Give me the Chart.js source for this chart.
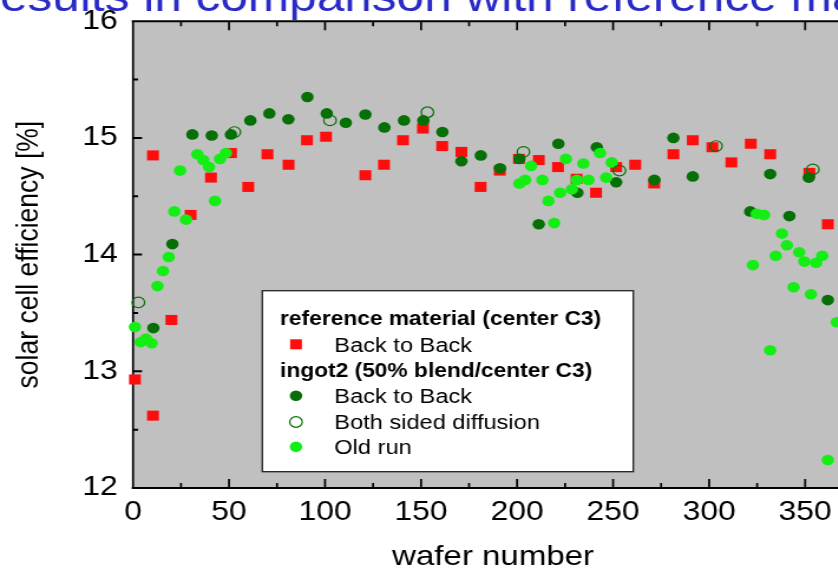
<!DOCTYPE html>
<html>
<head>
<meta charset="utf-8">
<script src="https://cdn.jsdelivr.net/npm/chart.js@4.4.0/dist/chart.umd.min.js"></script>
<style>
  html, body { margin: 0; padding: 0; background: #fff; overflow: hidden; width: 838px; height: 571px; }
  /* la imagen original está estirada en horizontal */
  #marco { position: absolute; left: 0; top: 0; transform: scaleX(1.18); transform-origin: 0 0; }
</style>
</head>
<body>
<div id="marco"><canvas id="grafico" width="740" height="571"></canvas></div>
<script>
// Datos
const titulo = 'Results in comparison with reference material';

// reference material (center C3) - Back to Back
const refX = [1, 10.4, 10.4, 20, 30, 40.6, 51, 60, 70, 81, 90.6, 100.5, 121, 130.7, 140.6, 151, 161, 171, 181, 191,
  201, 211.3, 221.3, 231, 241.1, 251.6, 261.5, 271.4, 281.4, 291.5, 301.7, 311.6, 321.7, 331.8, 352.2, 361.8];
const refY = [12.93, 12.62, 14.85, 13.44, 14.34, 14.66, 14.87, 14.58, 14.86, 14.77, 14.98, 15.01, 14.68, 14.77, 14.98, 15.08, 14.93, 14.88, 14.58, 14.72,
  14.82, 14.81, 14.75, 14.65, 14.53, 14.75, 14.77, 14.61, 14.86, 14.98, 14.92, 14.79, 14.95, 14.86, 14.70, 14.26];

// ingot2 - Back to Back
const b2bX = [10.6, 20.5, 30.9, 41, 51, 61.1, 71, 80.9, 90.8, 100.9, 110.8, 121, 130.9, 141.1, 151.2, 161.1, 171, 181.1,
  191.1, 201.2, 211.3, 221.5, 231.4, 241.5, 251.6, 271.5, 281.4, 291.5, 321.4, 331.8, 341.8, 351.9, 361.8];
const b2bY = [13.37, 14.09, 15.03, 15.02, 15.03, 15.15, 15.21, 15.16, 15.35, 15.21, 15.13, 15.20, 15.09, 15.15, 15.15, 15.05, 14.80, 14.85,
  14.74, 14.82, 14.26, 14.95, 14.53, 14.92, 14.62, 14.64, 15.00, 14.67, 14.37, 14.69, 14.33, 14.66, 13.61];

// ingot2 - Both sided diffusion
const bsdX = [2.8, 52.8, 102.6, 153.3, 203.3, 253.3, 303.6, 354];
const bsdY = [13.59, 15.05, 15.15, 15.22, 14.88, 14.72, 14.93, 14.73];

// ingot2 - Old run
const oldX = [1, 4, 6.8, 9.7, 12.7, 15.6, 18.6, 21.5, 24.5, 27.6, 33.5, 36.6, 39.6, 42.7, 45.3, 48.4,
  201.2, 204.2, 207.3, 213.2, 216.3, 219.3, 222.4, 225.4, 228.5, 231.1, 234.5, 237.2, 243.2, 246.4, 249.3,
  322.8, 324.8, 328.6, 331.8, 334.7, 337.9, 340.5, 344, 346.9, 349.6, 353, 355.7, 358.9, 361.8, 366.5];
const oldY = [13.38, 13.25, 13.28, 13.24, 13.73, 13.86, 13.98, 14.37, 14.72, 14.30, 14.86, 14.81, 14.75, 14.46, 14.82, 14.87,
  14.61, 14.64, 14.76, 14.64, 14.46, 14.27, 14.53, 14.82, 14.56, 14.64, 14.78, 14.64, 14.87, 14.66, 14.79,
  13.91, 14.35, 14.34, 13.18, 13.99, 14.18, 14.08, 13.72, 14.02, 13.94, 13.66, 13.93, 13.99, 12.24, 13.42];

const ESTIRADO = 1.18;
const ROJO = '#ff0d0d';
const VERDE_OSCURO = '#067006';
const VERDE_CLARO = '#14ee14';
const FUENTE = '"Liberation Sans", Arial, sans-serif';

function puntos(xs, ys) {
  return xs.map((x, i) => ({ x: x, y: ys[i] }));
}

// Fondo gris, marco y marcas hacia dentro
const marco = {
  id: 'marco',
  beforeDraw(chart) {
    const { ctx, chartArea: a } = chart;
    ctx.save();
    ctx.fillStyle = '#fff';
    ctx.fillRect(0, 0, chart.width, chart.height);
    ctx.fillStyle = '#c0c0c0';
    ctx.fillRect(a.left, a.top, a.right - a.left, a.bottom - a.top);
    // título cortado arriba
    ctx.font = '42px ' + FUENTE;
    ctx.fillStyle = '#2a2ac6';
    ctx.textBaseline = 'alphabetic';
    const wR = ctx.measureText(titulo[0]).width;
    ctx.fillText(titulo, -wR, 11);
    ctx.restore();
  },
  beforeDatasetsDraw(chart) {
    const { ctx, chartArea: a, scales } = chart;
    ctx.save();
    ctx.strokeStyle = '#000';
    // líneas horizontales
    ctx.lineWidth = 2;
    ctx.beginPath();
    ctx.moveTo(a.left - 1, a.top); ctx.lineTo(a.right, a.top);
    ctx.moveTo(a.left - 1, a.bottom); ctx.lineTo(a.right, a.bottom);
    for (let v = 12; v <= 16.001; v += 0.5) {
      const py = scales.y.getPixelForValue(v);
      const len = (Math.abs(v - Math.round(v)) < 0.01 ? 9 : 5) / ESTIRADO;
      ctx.moveTo(a.left, py); ctx.lineTo(a.left + len, py);
      ctx.moveTo(a.right, py); ctx.lineTo(a.right - len, py);
    }
    ctx.stroke();
    // líneas verticales
    ctx.lineWidth = 2 / ESTIRADO;
    ctx.beginPath();
    ctx.moveTo(a.left, a.top); ctx.lineTo(a.left, a.bottom + 1);
    ctx.moveTo(a.right, a.top); ctx.lineTo(a.right, a.bottom + 1);
    for (let v = 0; v <= 375; v += 25) {
      const px = scales.x.getPixelForValue(v);
      const len = v % 50 === 0 ? 9 : 5;
      ctx.moveTo(px, a.bottom); ctx.lineTo(px, a.bottom - len);
      ctx.moveTo(px, a.top); ctx.lineTo(px, a.top + len);
    }
    ctx.stroke();
    ctx.restore();
  },
  afterDraw(chart) {
    // leyenda con encabezados
    const ctx = chart.ctx;
    ctx.save();
    const L = 262.3 / ESTIRADO, R = 633.3 / ESTIRADO, T = 290.7, B = 471.7;
    ctx.fillStyle = '#fff';
    ctx.fillRect(L, T, R - L, B - T);
    ctx.strokeStyle = '#222';
    ctx.lineWidth = 1.3;
    ctx.strokeRect(L, T, R - L, B - T);
    const xTit = 280 / ESTIRADO, xMar = 296 / ESTIRADO, xTxt = 334.3 / ESTIRADO;
    ctx.fillStyle = '#000';
    ctx.textBaseline = 'alphabetic';
    ctx.font = 'bold 19.3px ' + FUENTE;
    ctx.fillText('reference material (center C3)', xTit, 325);
    ctx.fillText('ingot2 (50% blend/center C3)', xTit, 377);
    ctx.font = '20px ' + FUENTE;
    ctx.fillText('Back to Back', xTxt, 351.5);
    ctx.fillText('Back to Back', xTxt, 402.7);
    ctx.fillText('Both sided diffusion', xTxt, 428.7);
    ctx.fillText('Old run', xTxt, 454);
    // marcadores
    ctx.fillStyle = ROJO;
    ctx.fillRect(xMar - 5, 344.3 - 5, 10, 10);
    ctx.fillStyle = VERDE_OSCURO;
    ctx.beginPath(); ctx.arc(xMar, 395.7, 5.3, 0, Math.PI * 2); ctx.fill();
    ctx.strokeStyle = VERDE_OSCURO;
    ctx.lineWidth = 1.2;
    ctx.beginPath(); ctx.arc(xMar, 422, 5.3, 0, Math.PI * 2); ctx.stroke();
    ctx.fillStyle = VERDE_CLARO;
    ctx.beginPath(); ctx.arc(xMar, 446.7, 5.3, 0, Math.PI * 2); ctx.fill();
    ctx.restore();
  }
};

const ctx = document.getElementById('grafico').getContext('2d');
new Chart(ctx, {
  type: 'scatter',
  data: {
    datasets: [
      {
        label: 'Both sided diffusion',
        data: puntos(bsdX, bsdY),
        pointStyle: 'circle', pointRadius: 5.3,
        backgroundColor: 'rgba(0,0,0,0)', borderColor: VERDE_OSCURO, borderWidth: 1.2,
        order: 0, clip: false
      },
      {
        label: 'Old run',
        data: puntos(oldX, oldY),
        pointStyle: 'circle', pointRadius: 5.3,
        backgroundColor: VERDE_CLARO, borderColor: VERDE_CLARO, borderWidth: 0,
        order: 1, clip: false
      },
      {
        label: 'ingot2 Back to Back',
        data: puntos(b2bX, b2bY),
        pointStyle: 'circle', pointRadius: 5.3,
        backgroundColor: VERDE_OSCURO, borderColor: VERDE_OSCURO, borderWidth: 0,
        order: 2, clip: false
      },
      {
        label: 'reference Back to Back',
        data: puntos(refX, refY),
        pointStyle: 'rect', pointRadius: 7.1,
        backgroundColor: ROJO, borderColor: ROJO, borderWidth: 0,
        order: 3, clip: false
      }
    ]
  },
  options: {
    responsive: false,
    animation: false,
    devicePixelRatio: 1,
    layout: { padding: { left: 0, top: 20, right: 17, bottom: 0 } },
    plugins: {
      legend: { display: false },
      tooltip: { enabled: false },
      title: { display: false }
    },
    scales: {
      x: {
        type: 'linear',
        min: 0, max: 375,
        grid: { display: false },
        border: { display: false },
        ticks: {
          stepSize: 50, includeBounds: false, padding: 0,
          color: '#000', font: { family: FUENTE, size: 27 },
          maxRotation: 0, autoSkip: false
        },
        title: {
          display: true, text: 'wafer number', color: '#000',
          font: { family: FUENTE, size: 28, lineHeight: 1.0 }, padding: { top: 0, bottom: 0 }
        },
        afterFit(scale) { scale.height = 83; }
      },
      y: {
        min: 12, max: 16,
        grid: { display: false },
        border: { display: false },
        ticks: {
          stepSize: 1, padding: 5,
          color: '#000', font: { family: FUENTE, size: 27 }
        },
        title: {
          display: true, text: 'solar cell efficiency [%]', color: '#000',
          font: { family: FUENTE, size: 26.5 }, padding: { top: 9, bottom: 0 }
        },
        afterFit(scale) { scale.width = 133 / ESTIRADO; }
      }
    }
  },
  plugins: [marco]
});
</script>
</body>
</html>
